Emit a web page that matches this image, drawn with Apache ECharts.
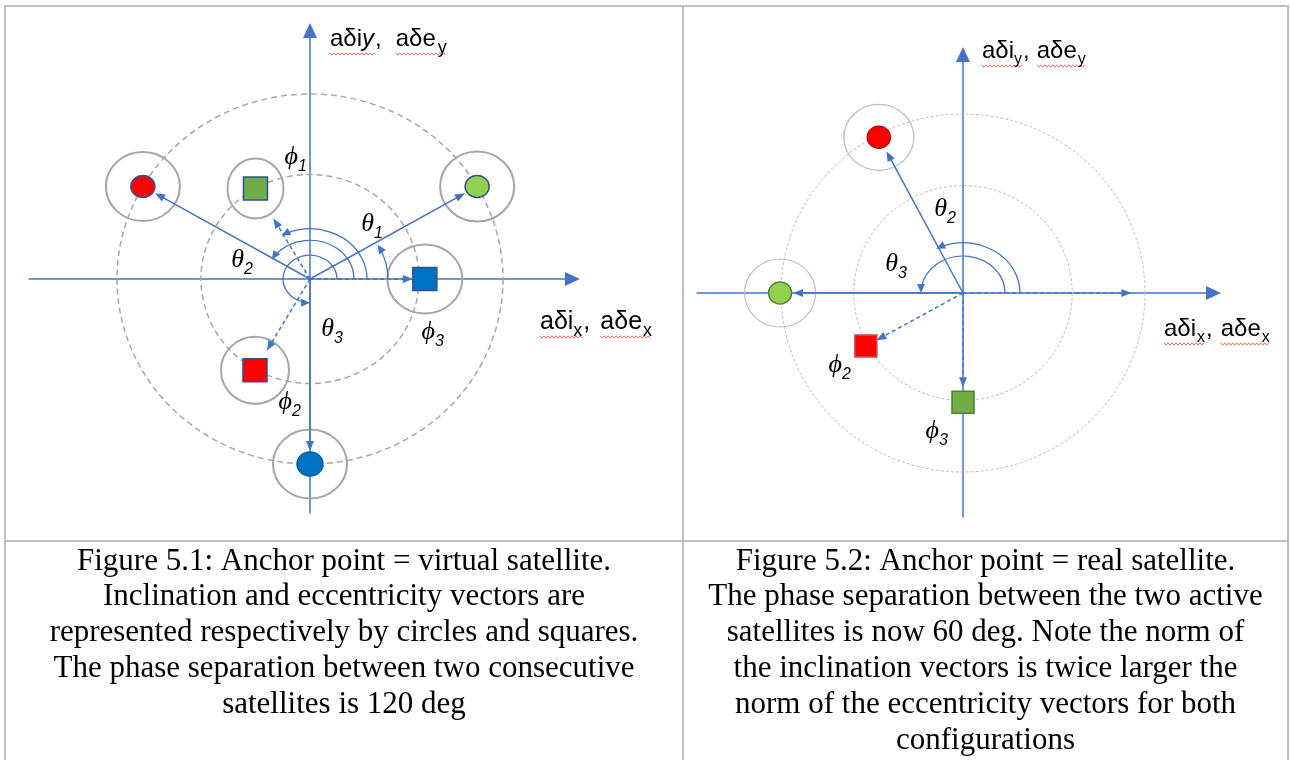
<!DOCTYPE html>
<html>
<head>
<meta charset="utf-8">
<script src="https://cdn.jsdelivr.net/npm/echarts@6.0.0/dist/echarts.min.js"></script>
<style>
html,body{margin:0;padding:0;background:#ffffff;}
#chart{width:1290px;height:760px;}
</style>
</head>
<body>
<div id="chart"></div>
<script>
// ======================= DATA =======================
// Figure 5.1 — anchor point = virtual satellite
const fig1InclLabels = ['θ1', 'θ2', 'θ3'];
const fig1InclAngle  = [30, 150, 270];        // deg
const fig1InclNorm   = [2.0, 2.0, 2.0];
const fig1EccLabels  = ['ϕ1', 'ϕ2', 'ϕ3'];
const fig1EccAngle   = [120, 240, 0];         // deg
const fig1EccNorm    = [1.13, 1.14, 1.19];
const fig1RefRadii   = [2.0, 1.13];           // dashed reference circles
const fig1ArcAngle   = [30, 150, 120, 270];   // θ1, θ2, ϕ1, θ3

// Figure 5.2 — anchor point = real satellite
const fig2InclLabels = ['θ2', 'θ3'];
const fig2InclAngle  = [118, 180];
const fig2InclNorm   = [1.97, 2.01];
const fig2EccLabels  = ['ϕ2', 'ϕ3'];
const fig2EccAngle   = [209, 270];
const fig2EccNorm    = [1.22, 1.22];
const fig2RefVecAngle = [0];
const fig2RefVecNorm  = [1.85];
const fig2RefRadii   = [2.0, 1.2];
const fig2ArcAngle   = [118, 180];            // θ2, θ3

// axis titles
const axisTitleYLeft  = ['aδi', 'y', ',', 'aδe', 'y'];
const axisTitleXLeft  = ['aδi', 'x', ',', 'aδe', 'x'];
const axisTitleYRight = ['aδi', 'y', ',', 'aδe', 'y'];
const axisTitleXRight = ['aδi', 'x', ',', 'aδe', 'x'];

// captions
const caption1 = [
  'Figure 5.1: Anchor point = virtual satellite.',
  'Inclination and eccentricity vectors are',
  'represented respectively by circles and squares.',
  'The phase separation between two consecutive',
  'satellites is 120 deg'
];
const caption2 = [
  'Figure 5.2: Anchor point = real satellite.',
  'The phase separation between the two active',
  'satellites is now 60 deg. Note the norm of',
  'the inclination vectors is twice larger the',
  'norm of the eccentricity vectors for both',
  'configurations'
];

// ======================= LAYOUT / STYLE =======================
const BLUE = '#4472C4';
const FIGS = [
  {
    incl: {angle: fig1InclAngle, norm: fig1InclNorm},
    ecc:  {angle: fig1EccAngle,  norm: fig1EccNorm},
    ref:  null,
    refR: fig1RefRadii, arcs: fig1ArcAngle,
    labels: fig1InclLabels.concat(fig1EccLabels),
    L: {origin: [310, 279], sx: 96.5, sy: 92.5, x0: 29, x1: 572.5, y0: 30.5, y1: 513,
        inclGap: [14, 14, 13], eccGap: [35, 23, 12],
        inclSize: [[24, 22], [24, 22], [26, 24]], eccSize: [[24, 23], [24, 23], [24, 23]],
        inclRing: [[74, 70], [74, 69], [74, 69]], eccRing: [[56, 60], [68, 67], [75, 69]],
        arcR: [78, 44, 57, 27], arcFlat: 0.88,
        labelPx: [[372, 227], [242, 263], [332, 332], [296, 160], [290, 405], [433, 335]]},
    S: {refStroke: '#A6A6A6', refWidth: 1.5, refDash: [6, 4], ringColor: '#A6A6A6', ringWidth: 2,
        inclFill: ['#92D050', '#FF0000', '#0070C0'], inclBorder: ['#2F528F', '#2F528F', '#0062A8'],
        eccFill: ['#70AD47', '#FF0000', '#0070C0'], eccBorder: ['#2F528F', '#2F528F', '#2F528F']}
  },
  {
    incl: {angle: fig2InclAngle, norm: fig2InclNorm},
    ecc:  {angle: fig2EccAngle,  norm: fig2EccNorm},
    ref:  {angle: fig2RefVecAngle, norm: fig2RefVecNorm},
    refR: fig2RefRadii, arcs: fig2ArcAngle,
    labels: fig2InclLabels.concat(fig2EccLabels),
    L: {origin: [963, 293], sx: 91, sy: 89.5, x0: 697, x1: 1213.5, y0: 54.5, y1: 517,
        inclGap: [16, 13], eccGap: [12, 15], refGap: [0],
        inclSize: [[23, 22], [23, 22]], eccSize: [[22, 22], [22, 22]],
        inclRing: [[70, 66], [71, 68]], eccRing: null,
        arcR: [57, 42], arcFlat: 0.88,
        labelPx: [[945, 212], [896, 267], [840, 368], [937, 434]]},
    S: {refStroke: '#BDBDBD', refWidth: 1, refDash: [3, 2], ringColor: '#BDBDBD', ringWidth: 1.2,
        inclFill: ['#FF0000', '#92D050'], inclBorder: ['#C00000', '#548235'],
        eccFill: ['#FF0000', '#70AD47'], eccBorder: ['#C0504D', '#507E32']}
  }
];

function polar(a, r) { const t = a * Math.PI / 180; return [r * Math.cos(t), r * Math.sin(t)]; }

function arrowRender(gaps, dashed) {
  return function (params, api) {
    const p0 = api.coord([0, 0]);
    const p1 = api.coord([api.value(0), api.value(1)]);
    let dx = p1[0] - p0[0], dy = p1[1] - p0[1];
    const len = Math.hypot(dx, dy); dx /= len; dy /= len;
    const gap = gaps[params.dataIndex] || 0;
    const tip = [p1[0] - gap * dx, p1[1] - gap * dy];
    const AL = 10, AW = 8;
    const base = [tip[0] - AL * dx, tip[1] - AL * dy];
    const nx = -dy, ny = dx;
    return {type: 'group', children: [
      {type: 'line', shape: {x1: p0[0], y1: p0[1], x2: base[0] + 2 * dx, y2: base[1] + 2 * dy},
       style: {stroke: BLUE, lineWidth: 1.5, lineDash: dashed ? [4, 3] : null, fill: 'none'}},
      {type: 'polygon', shape: {points: [tip, [base[0] + nx * AW / 2, base[1] + ny * AW / 2], [base[0] - nx * AW / 2, base[1] - ny * AW / 2]]},
       style: {fill: BLUE}}
    ]};
  };
}

function arcRender(radii, flat) {
  return function (params, api) {
    const c = api.coord([0, 0]);
    const a = api.value(2) * Math.PI / 180;
    const rx = radii[params.dataIndex], ry = rx * flat;
    const P = [c[0] + rx * Math.cos(a), c[1] - ry * Math.sin(a)];
    let d = [-rx * Math.sin(a), -ry * Math.cos(a)];
    const dl = Math.hypot(d[0], d[1]); d = [d[0] / dl, d[1] / dl];
    const AL = 9, AW = 8, n = [-d[1], d[0]];
    const B = [P[0] - AL * d[0], P[1] - AL * d[1]];
    const aEnd = a - (AL * 0.6) / ((rx + ry) / 2);
    return {type: 'group', children: [
      {type: 'arc', x: c[0], y: c[1], scaleX: 1, scaleY: flat,
       shape: {cx: 0, cy: 0, r: rx, startAngle: -aEnd, endAngle: 0, clockwise: true},
       style: {stroke: BLUE, lineWidth: 1.3, fill: 'none', strokeNoScale: true}},
      {type: 'polygon', shape: {points: [P, [B[0] + n[0] * AW / 2, B[1] + n[1] * AW / 2], [B[0] - n[0] * AW / 2, B[1] - n[1] * AW / 2]]},
       style: {fill: BLUE}}
    ]};
  };
}

function circleRender(S) {
  return function (params, api) {
    const c = api.coord([0, 0]);
    const r = api.value(2);
    const sz = api.size([r, r]);
    return {type: 'circle', x: c[0], y: c[1], scaleX: 1, scaleY: sz[1] / sz[0],
      shape: {cx: 0, cy: 0, r: sz[0]},
      style: {fill: 'none', stroke: S.refStroke, lineWidth: S.refWidth, lineDash: S.refDash, strokeNoScale: true}};
  };
}

function labelRender(texts) {
  return function (params, api) {
    const p = api.coord([api.value(0), api.value(1)]);
    const t = texts[params.dataIndex];
    return {type: 'group', children: [
      {type: 'text', x: p[0] + 2, y: p[1] - 3,
       style: {text: t.charAt(0), font: 'italic 26px "Liberation Serif", "DejaVu Serif"', fill: '#000',
               align: 'right', verticalAlign: 'middle', textAlign: 'right', textVerticalAlign: 'middle'}},
      {type: 'text', x: p[0] + 2, y: p[1] + 7,
       style: {text: t.slice(1), font: 'italic 16px "Liberation Sans"', fill: '#000',
               align: 'left', verticalAlign: 'middle', textAlign: 'left', textVerticalAlign: 'middle'}}
    ]};
  };
}

const grids = [], xAxes = [], yAxes = [], series = [];
FIGS.forEach(function (F, g) {
  const L = F.L, S = F.S;
  grids.push({left: L.x0, top: L.y0, width: L.x1 - L.x0, height: L.y1 - L.y0, containLabel: false, outerBoundsMode: 'none'});
  const axisCommon = {
    type: 'value', gridIndex: g,
    axisLine: {show: true, onZero: true, symbol: ['none', 'triangle'], symbolSize: [14, 15],
               lineStyle: {color: BLUE, width: 1.5}},
    axisTick: {show: false}, axisLabel: {show: false}, splitLine: {show: false}
  };
  xAxes.push(Object.assign({}, axisCommon, {min: -(L.origin[0] - L.x0) / L.sx, max: (L.x1 - L.origin[0]) / L.sx}));
  yAxes.push(Object.assign({}, axisCommon, {min: -(L.y1 - L.origin[1]) / L.sy, max: (L.origin[1] - L.y0) / L.sy}));
  const ax = {xAxisIndex: g, yAxisIndex: g, silent: true, animation: false};

  const inclPts = F.incl.angle.map((a, i) => polar(a, F.incl.norm[i]));
  const eccPts = F.ecc.angle.map((a, i) => polar(a, F.ecc.norm[i]));

  series.push(Object.assign({type: 'custom', z: 1, encode: {x: 0, y: 1},
    data: F.refR.map(r => [0, 0, r]), renderItem: circleRender(S)}, ax));
  const rings = inclPts.map((p, i) => ({value: p, symbolSize: L.inclRing[i]}));
  if (L.eccRing) eccPts.forEach((p, i) => rings.push({value: p, symbolSize: L.eccRing[i]}));
  series.push(Object.assign({type: 'scatter', z: 2, symbol: 'circle', data: rings,
    itemStyle: {color: 'rgba(0,0,0,0)', borderColor: S.ringColor, borderWidth: S.ringWidth, opacity: 1}}, ax));
  series.push(Object.assign({type: 'custom', z: 3, encode: {x: 0, y: 1},
    data: F.arcs.map(a => [0, 0, a]), renderItem: arcRender(L.arcR, L.arcFlat)}, ax));
  series.push(Object.assign({type: 'custom', z: 3, encode: {x: 0, y: 1},
    data: inclPts, renderItem: arrowRender(L.inclGap, false)}, ax));
  series.push(Object.assign({type: 'custom', z: 3, encode: {x: 0, y: 1},
    data: eccPts, renderItem: arrowRender(L.eccGap, true)}, ax));
  if (F.ref) {
    series.push(Object.assign({type: 'custom', z: 3, encode: {x: 0, y: 1},
      data: F.ref.angle.map((a, i) => polar(a, F.ref.norm[i])), renderItem: arrowRender(L.refGap, true)}, ax));
  }
  series.push(Object.assign({type: 'scatter', z: 4,
    data: inclPts.map((p, i) => ({value: p, symbol: 'circle', symbolSize: L.inclSize[i],
      itemStyle: {color: S.inclFill[i], borderColor: S.inclBorder[i], borderWidth: 1.5, opacity: 1}}))}, ax));
  series.push(Object.assign({type: 'scatter', z: 4,
    data: eccPts.map((p, i) => ({value: p, symbol: 'rect', symbolSize: L.eccSize[i],
      itemStyle: {color: S.eccFill[i], borderColor: S.eccBorder[i], borderWidth: 1.5, opacity: 1}}))}, ax));
  series.push(Object.assign({type: 'custom', z: 5, encode: {x: 0, y: 1},
    data: L.labelPx.map(p => [(p[0] - L.origin[0]) / L.sx, (L.origin[1] - p[1]) / L.sy]),
    renderItem: labelRender(F.labels)}, ax));
});

// ---------- graphic: axis titles, squiggles, table, captions ----------
const mctx = document.createElement('canvas').getContext('2d');
const graphic = [];
function titleRun(x, baseline, texts, size, subSize, subDrop, gaps, italicIdx, subIdx) {
  let cx = x; const ext = [];
  texts.forEach(function (t, i) {
    cx += gaps[i] || 0;
    const isSub = subIdx.indexOf(i) >= 0;
    const sz = isSub ? subSize : size;
    const font = (italicIdx.indexOf(i) >= 0 ? 'italic ' : '') + sz + 'px "Liberation Sans"';
    mctx.font = font;
    const w = mctx.measureText(t).width;
    const bl = baseline + (isSub ? subDrop : 0);
    graphic.push({type: 'text', x: cx, y: bl - 0.3465 * sz, z: 100, silent: true,
      style: {text: t, font: font, fill: '#000', align: 'left', verticalAlign: 'middle', textAlign: 'left', textVerticalAlign: 'middle'}});
    ext.push([cx, cx + w]);
    cx += w;
  });
  [[ext[0][0], ext[1][1]], [ext[3][0], ext[4][1]]].forEach(function (sp) {
    const pts = []; const y = baseline + 6; let k = 0;
    for (let px = sp[0]; px <= sp[1]; px += 2, k++) pts.push([px, y + (k % 2 ? 1.2 : -1.2)]);
    graphic.push({type: 'polyline', z: 99, silent: true, shape: {points: pts}, style: {stroke: '#E04040', lineWidth: 0.8, fill: 'none'}});
  });
}
titleRun(330, 48, axisTitleYLeft, 24, 18, 6, [0, 0, 1, 14, 2], [1], [4]);
titleRun(540, 331, axisTitleXLeft, 25, 18, 6, [0, 0, 1, 10, 1], [], [1, 4]);
titleRun(982, 60, axisTitleYRight, 24, 16, 5, [0, 0, 1, 7, 1], [], [1, 4]);
titleRun(1164, 338, axisTitleXRight, 24, 16, 5, [0, 1, 1, 8, 1], [], [1, 4]);

const BC = '#BFBFBF';
[[5, 6, 5, 760], [683, 6, 683, 760], [1288, 6, 1288, 760], [4, 6, 1289, 6], [4, 541, 1289, 541]].forEach(function (l) {
  graphic.push({type: 'line', z: 50, silent: true, shape: {x1: l[0], y1: l[1], x2: l[2], y2: l[3]}, style: {stroke: BC, lineWidth: 2}});
});
function caption(lines, cx) {
  lines.forEach(function (t, i) {
    const bl = 572 + 35.8 * i;
    graphic.push({type: 'text', x: cx, y: bl - 0.3375 * 31, z: 100, silent: true,
      style: {text: t, font: '31px "Liberation Serif"', fill: '#000', align: 'center', verticalAlign: 'middle', textAlign: 'center', textVerticalAlign: 'middle'}});
  });
}
caption(caption1, 344);
caption(caption2, 985.5);

const chart = echarts.init(document.getElementById('chart'), null, {renderer: 'canvas', width: 1290, height: 760});
chart.setOption({
  backgroundColor: '#ffffff',
  animation: false,
  grid: grids, xAxis: xAxes, yAxis: yAxes, series: series,
  graphic: graphic
});
</script>
</body>
</html>
